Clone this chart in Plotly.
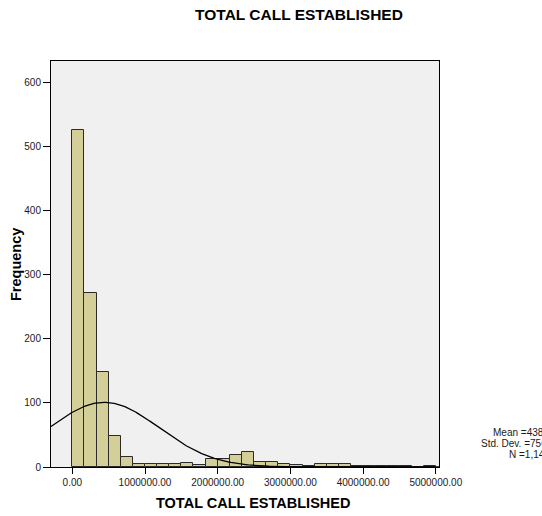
import numpy as np
import plotly.graph_objects as go

# ---- data ----
bin_width = 1000000.0 / 6.0          # histogram bin width
bin_start = 0.0
counts = [526, 271, 148, 48, 15, 5, 5, 4, 5, 6,
          3, 12, 13, 19, 24, 8, 8, 4, 3, 2,
          4, 5, 4, 1, 1, 1, 1, 1, 0, 1]
x_tickvals = [0, 1000000, 2000000, 3000000, 4000000, 5000000]
x_ticktext = ["0.00", "1000000.00", "2000000.00", "3000000.00", "4000000.00", "5000000.00"]
y_tickvals = [0, 100, 200, 300, 400, 500, 600]

mean_val = 438434.18
std_val = 756589.217
n_val = 1148

title_text = "TOTAL CALL ESTABLISHED"
x_title = "TOTAL CALL ESTABLISHED"
y_title = "Frequency"
stats_lines = ["Mean =438434.18", "Std. Dev. =756589.217", "N =1,148"]

x_range = [-293000, 5044000]
y_range = [0, 633]

# ---- derived ----
centers = [bin_start + (i + 0.5) * bin_width for i in range(len(counts))]
xs = np.linspace(x_range[0], x_range[1], 400)
curve = n_val * bin_width / (std_val * np.sqrt(2 * np.pi)) * np.exp(-0.5 * ((xs - mean_val) / std_val) ** 2)

FONT = "Liberation Sans, Arial, sans-serif"

FIG_W, FIG_H = 542, 516
PL, PR, PT, PB = 51, 439, 61, 467      # plot area in page pixels

fig = go.Figure()
fig.add_trace(go.Bar(
    x=centers, y=counts, width=[bin_width] * len(counts),
    marker=dict(color="#d4cf99", line=dict(color="#2a2a2a", width=1)),
    hoverinfo="skip", showlegend=False,
))
fig.add_trace(go.Scatter(
    x=xs, y=curve, mode="lines",
    line=dict(color="black", width=1.3),
    hoverinfo="skip", showlegend=False,
))

fig.update_layout(
    width=FIG_W, height=FIG_H,
    margin=dict(l=PL, r=FIG_W - PR, t=PT, b=FIG_H - PB),
    paper_bgcolor="white", plot_bgcolor="#f0f0f0",
    font=dict(family=FONT, size=10, color="#1a1a1a"),
    bargap=0,
    title=dict(text="<b>" + title_text + "</b>", x=299 / FIG_W, xref="container", xanchor="center",
               y=1 - 15 / FIG_H, yref="container", yanchor="middle",
               font=dict(family=FONT, size=15.5, color="black")),
)
fig.update_xaxes(
    range=x_range, tickvals=x_tickvals, ticktext=x_ticktext,
    showgrid=False, zeroline=False, showline=True, mirror=True,
    linecolor="black", linewidth=1, ticks="outside", ticklen=6, tickcolor="black",
    tickfont=dict(size=10, color="#1a1a1a"),
)
fig.update_yaxes(
    range=y_range, tickvals=y_tickvals,
    showgrid=False, zeroline=False, showline=True, mirror=True,
    linecolor="black", linewidth=1, ticks="outside", ticklen=7, tickcolor="black",
    tickfont=dict(size=10, color="#1a1a1a"),
)

plot_w = PR - PL
plot_h = PB - PT

def px_x(px):
    return (px - PL) / plot_w

def px_y(py):
    return (PB - py) / plot_h

fig.add_annotation(text="<b>" + x_title + "</b>", xref="paper", yref="paper",
                   x=px_x(253), y=px_y(503), xanchor="center", yanchor="middle",
                   showarrow=False, font=dict(family=FONT, size=14.5, color="black"))
fig.add_annotation(text="<b>" + y_title + "</b>", xref="paper", yref="paper",
                   x=px_x(16), y=px_y(265), xanchor="center", yanchor="middle", textangle=-90,
                   showarrow=False, font=dict(family=FONT, size=14.5, color="black"))

for txt, sx, sy in zip(stats_lines, [491, 479, 507], [432, 443, 454]):
    fig.add_annotation(text=txt, xref="paper", yref="paper",
                       x=px_x(sx), y=px_y(sy), xanchor="left", yanchor="middle",
                       showarrow=False, font=dict(family=FONT, size=10, color="#1a1a1a"))

fig.write_html("out.html", config={"displayModeBar": False},
               post_script="document.body.style.margin='0px';")
